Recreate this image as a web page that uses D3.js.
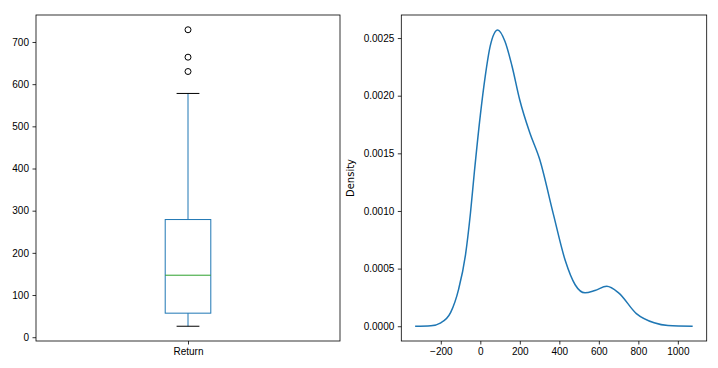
<!DOCTYPE html>
<html>
<head>
<meta charset="utf-8">
<script src="https://cdn.jsdelivr.net/npm/d3@7"></script>
<style>
    body { margin: 0; background: #fff; }
    svg { display: block; font-family: "DejaVu Sans", sans-serif; }
    .axis text { font-size: 10px; fill: #000; }
    .axis path, .axis line { stroke: #000; stroke-width: 0.8; }
</style>
</head>
<body>
<svg id="svg" width="718" height="368"></svg>
<script>
// box plot of "Return"
var boxCategory = ['Return'],
    boxStats = [26, 57, 147, 279, 578],   // low whisker, q1, median, q3, high whisker
    boxOutliers = [630, 664, 729],
    boxTicks = [0, 100, 200, 300, 400, 500, 600, 700];

// density estimate
var kdeX = [-330, -250, -200, -150, -110, -75, -50, -30, 0, 25, 50, 88, 125, 160,
            200, 250, 300, 370, 430, 480, 530, 580, 640, 700, 790, 880, 950, 1075],
    kdeY = [0, 0.000005, 0.00003, 0.00012, 0.00032, 0.00062, 0.00098, 0.00134, 0.00183,
            0.00217, 0.00243, 0.00257, 0.00247, 0.00226, 0.00196, 0.00168, 0.00145,
            0.00097, 0.00057, 0.00036, 0.00029, 0.00031, 0.000346, 0.00029, 0.00011,
            0.00003, 0.000006, 0],
    kdeXTicks = [-200, 0, 200, 400, 600, 800, 1000],
    kdeYTicks = [0, 0.0005, 0.001, 0.0015, 0.002, 0.0025];

var $svg = d3.select('#svg');

var plotTop = 15, plotBottom = 341;

// ---- left panel ----
var left = { x0: 36, x1: 340 };

var bx = d3.scaleLinear().domain([0.5, 1.5]).range([left.x0, left.x1]),
    by = d3.scaleLinear().domain([-9, 764]).range([plotBottom, plotTop]);

var $box = $svg.append('g');

$box.append('g')
    .attr('class', 'axis')
    .attr('transform', 'translate(' + left.x0 + ',0)')
    .call(d3.axisLeft(by).tickValues(boxTicks).tickSize(3.5).tickPadding(3.5).tickSizeOuter(0))
    .call(function (g) { g.select('.domain').remove(); });

$box.append('g')
    .attr('class', 'axis')
    .attr('transform', 'translate(0,' + plotBottom + ')')
    .call(d3.axisBottom(bx).tickValues([1]).tickFormat(function (d, i) { return boxCategory[i]; })
        .tickSize(3.5).tickPadding(3.5).tickSizeOuter(0))
    .call(function (g) { g.select('.domain').remove(); });

var cx = bx(1), hw = (bx(1.15) - bx(1)) / 2, cw = hw / 2;

// whiskers
$box.append('line').attr('x1', cx).attr('x2', cx).attr('y1', by(boxStats[0])).attr('y2', by(boxStats[1]))
    .attr('stroke', '#1f77b4');
$box.append('line').attr('x1', cx).attr('x2', cx).attr('y1', by(boxStats[3])).attr('y2', by(boxStats[4]))
    .attr('stroke', '#1f77b4');
// caps
[boxStats[0], boxStats[4]].forEach(function (v) {
    $box.append('line').attr('x1', cx - cw).attr('x2', cx + cw).attr('y1', by(v)).attr('y2', by(v))
        .attr('stroke', '#000');
});
// box
$box.append('rect')
    .attr('x', cx - hw).attr('width', hw * 2)
    .attr('y', by(boxStats[3])).attr('height', by(boxStats[1]) - by(boxStats[3]))
    .attr('fill', 'none').attr('stroke', '#1f77b4');
// median
$box.append('line').attr('x1', cx - hw).attr('x2', cx + hw).attr('y1', by(boxStats[2])).attr('y2', by(boxStats[2]))
    .attr('stroke', '#2ca02c');
// fliers
$box.selectAll('circle.flier')
    .data(boxOutliers)
    .enter()
    .append('circle')
    .classed('flier', true)
    .attr('cx', cx).attr('cy', function (d) { return by(d); })
    .attr('r', 3).attr('fill', 'none').attr('stroke', '#000');

$box.append('rect')
    .attr('x', left.x0).attr('y', plotTop).attr('width', left.x1 - left.x0).attr('height', plotBottom - plotTop)
    .attr('fill', 'none').attr('stroke', '#000').attr('stroke-width', 0.8);

// ---- right panel ----
var right = { x0: 401.3, x1: 706.7 };

var kx = d3.scaleLinear().domain([-400, 1146]).range([right.x0, right.x1]),
    ky = d3.scaleLinear().domain([-0.000128, 0.0027]).range([plotBottom, plotTop]);

var $kde = $svg.append('g');

$kde.append('g')
    .attr('class', 'axis')
    .attr('transform', 'translate(' + right.x0 + ',0)')
    .call(d3.axisLeft(ky).tickValues(kdeYTicks).tickFormat(d3.format('.4f'))
        .tickSize(3.5).tickPadding(3.5).tickSizeOuter(0))
    .call(function (g) { g.select('.domain').remove(); });

$kde.append('g')
    .attr('class', 'axis')
    .attr('transform', 'translate(0,' + plotBottom + ')')
    .call(d3.axisBottom(kx).tickValues(kdeXTicks).tickFormat(function (d) { return d < 0 ? '\u2212' + (-d) : d; })
        .tickSize(3.5).tickPadding(3.5).tickSizeOuter(0))
    .call(function (g) { g.select('.domain').remove(); });

$kde.append('text')
    .attr('transform', 'translate(354,' + ((plotTop + plotBottom) / 2) + ') rotate(-90)')
    .attr('text-anchor', 'middle')
    .style('font-size', '10px')
    .text('Density');

var line = d3.line()
    .x(function (d, i) { return kx(kdeX[i]); })
    .y(function (d) { return ky(d); })
    .curve(d3.curveMonotoneX);

$kde.append('path')
    .datum(kdeY)
    .attr('d', line)
    .attr('fill', 'none')
    .attr('stroke', '#1f77b4')
    .attr('stroke-width', 1.5);

$kde.append('rect')
    .attr('x', right.x0).attr('y', plotTop).attr('width', right.x1 - right.x0).attr('height', plotBottom - plotTop)
    .attr('fill', 'none').attr('stroke', '#000').attr('stroke-width', 0.8);
</script>
</body>
</html>
